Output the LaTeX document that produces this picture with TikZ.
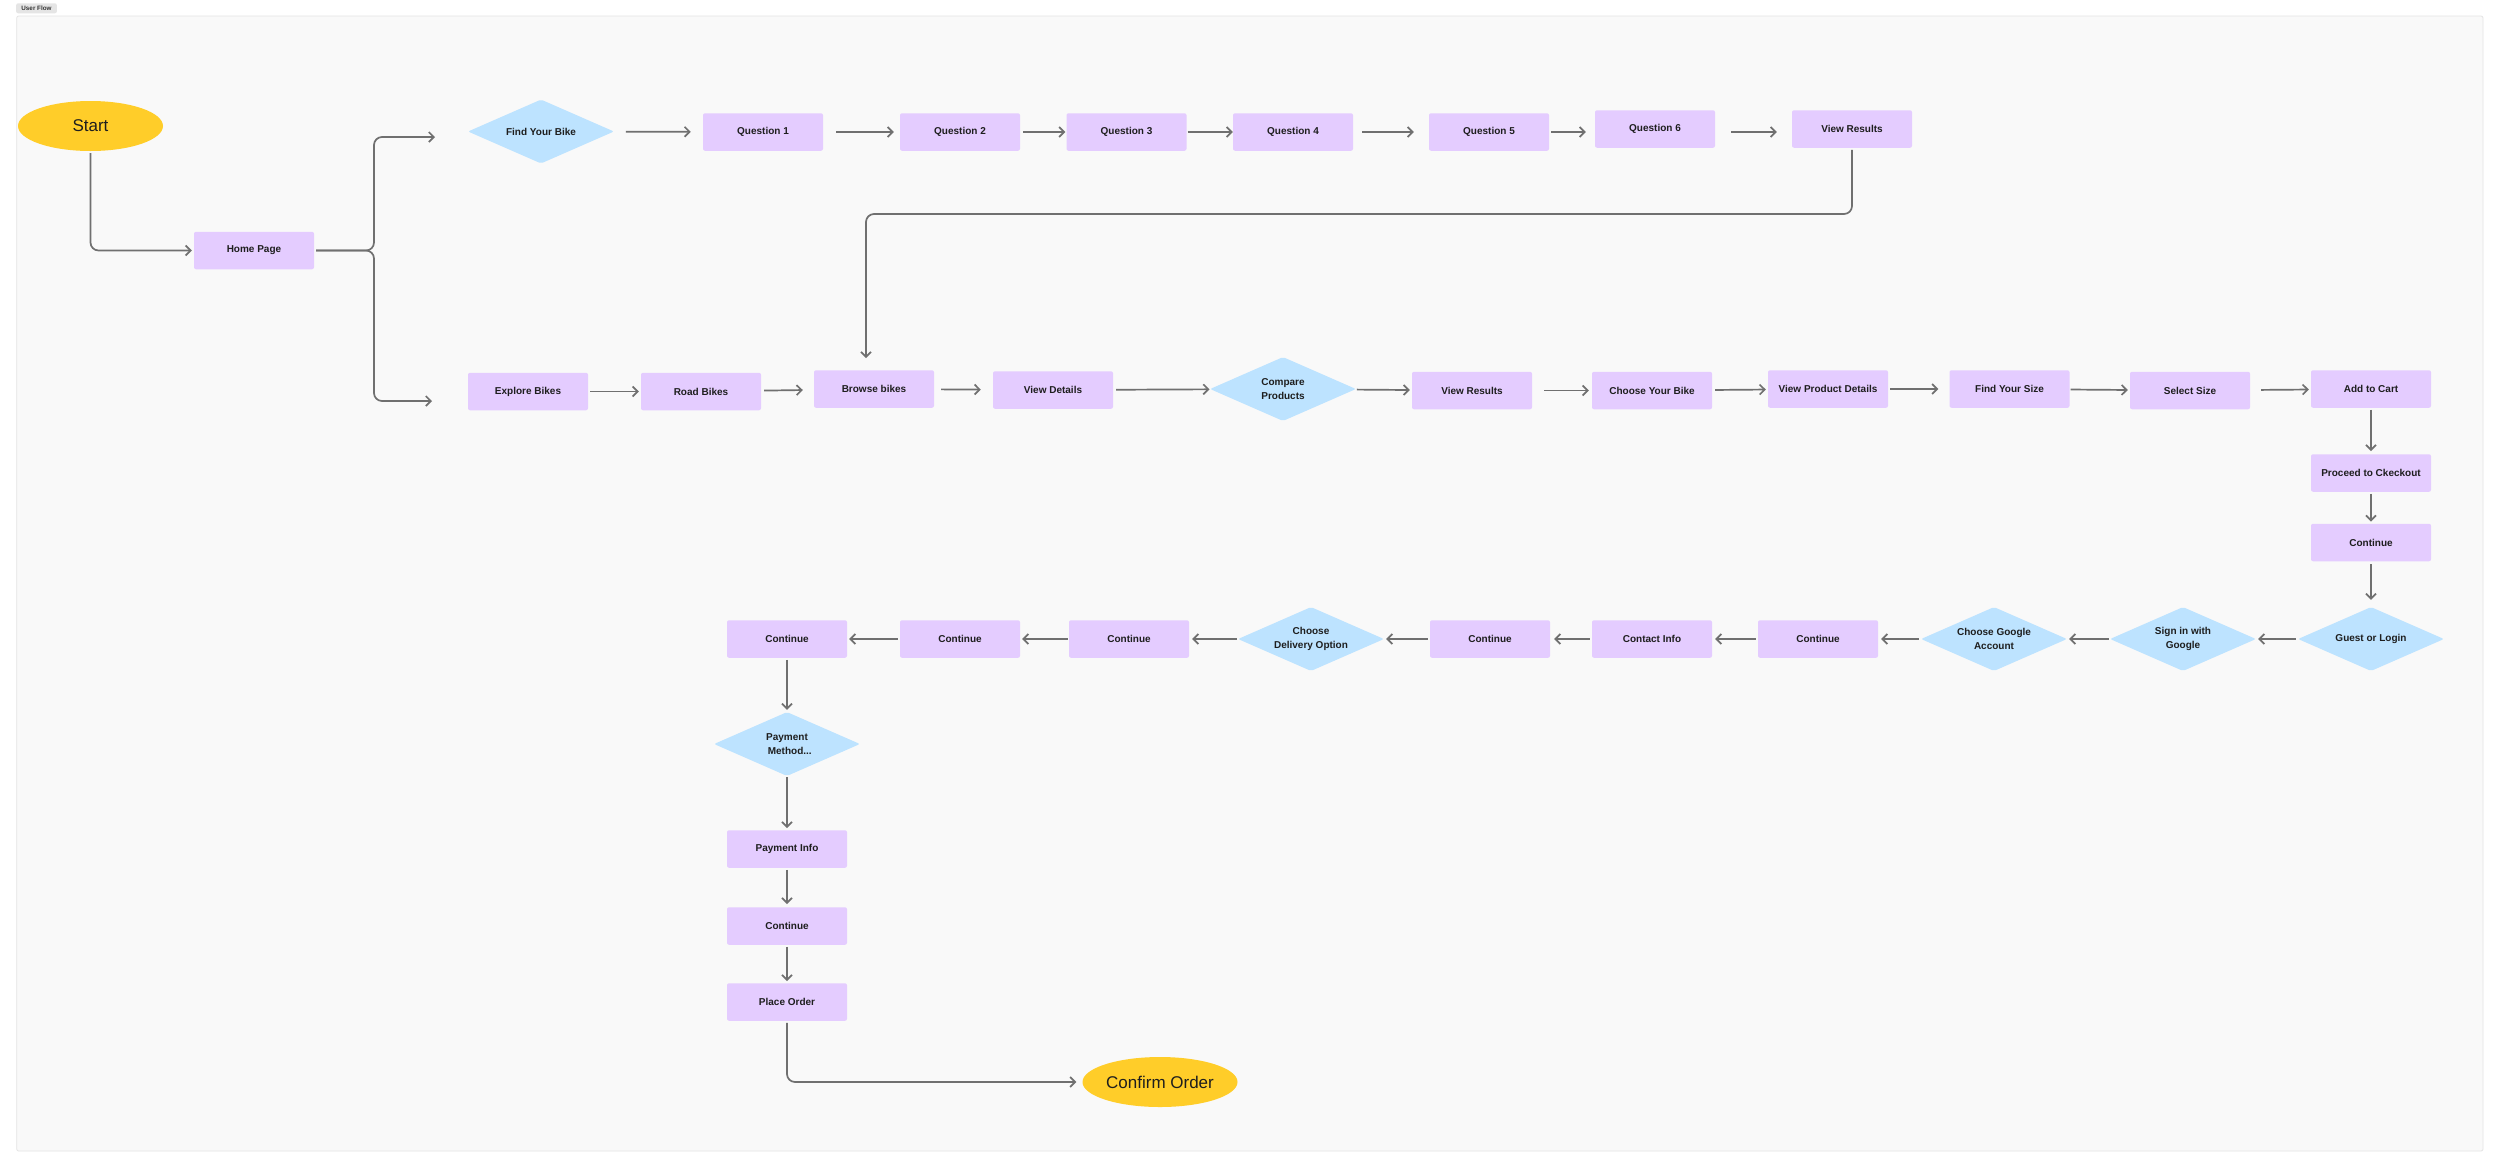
\documentclass[tikz,border=0pt]{standalone}
\usepackage{fontspec}
\setmainfont{Liberation Sans}
\usetikzlibrary{arrows.meta,shapes.geometric,calc}
\definecolor{boxpurple}{HTML}{E4CCFF}
\definecolor{diamblue}{HTML}{BDE3FF}
\definecolor{termyellow}{HTML}{FFCD29}
\definecolor{framefill}{HTML}{F9F9F9}
\definecolor{frameline}{HTML}{E4E4E4}
\definecolor{linegray}{HTML}{707070}
\definecolor{txt}{HTML}{1E1E1E}
\definecolor{tagfill}{HTML}{E5E5E5}
\begin{document}
\begin{tikzpicture}[x=1pt,y=-1pt,
  pbox/.style={rectangle, rounded corners=2pt, fill=boxpurple, minimum width=120pt, minimum height=37.5pt, inner sep=0pt, text=txt, font=\bfseries\fontsize{10}{14}\selectfont},
  dbox/.style={diamond, aspect=2.28, rounded corners=2pt, fill=diamblue, minimum width=146pt, minimum height=64pt, inner sep=0pt, text=txt, align=center, font=\bfseries\fontsize{10}{14}\selectfont},
  term/.style={ellipse, fill=termyellow, inner sep=0pt, text=txt, font=\fontsize{17}{20}\selectfont},
  tagbox/.style={rectangle, rounded corners=2pt, fill=tagfill, minimum width=40.7pt, minimum height=10pt, inner sep=0pt, text=black!80, font=\bfseries\fontsize{6.3}{7}\selectfont},
  arr/.style={draw=linegray, line width=1.7pt, -{Straight Barb[length=5pt,width=10pt]}, rounded corners=8pt},
  ln/.style={draw=linegray, line width=1.7pt, rounded corners=8pt},
]
\fill[white] (0,0) rectangle (2500,1168);
\useasboundingbox (0,0) rectangle (2500,1168);
\draw[frameline, fill=framefill, line width=0.8pt, rounded corners=2pt] (16.7,16) rectangle (2483,1151);
\node[tagbox] (tag) at (36.5,8.3) {User Flow};

% terminals
\node[term, minimum width=145pt, minimum height=50pt] (start) at (90.5,126) {Start};
\node[term, minimum width=155pt, minimum height=50pt] (confirm) at (1160,1082) {Confirm Order};

% top row
\node[pbox] (home) at (254,250.5) {Home Page};
\node[dbox] (fyb) at (541,131.5) {Find Your Bike};
\node[pbox] (q1) at (763,132) {Question 1};
\node[pbox] (q2) at (960,132) {Question 2};
\node[pbox] (q3) at (1126.5,132) {Question 3};
\node[pbox] (q4) at (1293,132) {Question 4};
\node[pbox] (q5) at (1489,132) {Question 5};
\node[pbox] (q6) at (1655,129) {Question 6};
\node[pbox] (vr1) at (1852,129) {View Results};

% second row
\node[pbox] (explore) at (528,391.5) {Explore Bikes};
\node[pbox] (road) at (701,391.5) {Road Bikes};
\node[pbox] (browse) at (874,389) {Browse bikes};
\node[pbox] (details) at (1053,390) {View Details};
\node[dbox] (compare) at (1283,389) {Compare\\Products};
\node[pbox] (vr2) at (1472,390.5) {View Results};
\node[pbox] (cyb) at (1652,390.5) {Choose Your Bike};
\node[pbox] (vpd) at (1828,389) {View Product Details};
\node[pbox] (fys) at (2009.5,389) {Find Your Size};
\node[pbox] (ssize) at (2190,390.5) {Select Size};
\node[pbox] (cart) at (2371,389) {Add to Cart};
\node[pbox] (checkout) at (2371,473) {Proceed to Ckeckout};
\node[pbox] (cont1) at (2371,542.5) {Continue};
\node[dbox] (guest) at (2371,639) {Guest or Login};

% third row
\node[dbox] (signin) at (2183,639) {Sign in with\\Google};
\node[dbox] (cga) at (1994,639) {Choose Google\\Account};
\node[pbox] (cont2) at (1818,639) {Continue};
\node[pbox] (contact) at (1652,639) {Contact Info};
\node[pbox] (cont3) at (1490,639) {Continue};
\node[dbox] (delivery) at (1311,639) {Choose\\Delivery Option};
\node[pbox] (cont4) at (1129,639) {Continue};
\node[pbox] (cont5) at (960,639) {Continue};
\node[pbox] (cont6) at (787,639) {Continue};
\node[dbox] (payment) at (787,744) {Payment\\\ \ Method...};
\node[pbox] (payinfo) at (787,849) {Payment Info};
\node[pbox] (cont7) at (787,926) {Continue};
\node[pbox] (place) at (787,1002) {Place Order};

% free ends / bends
\coordinate (split) at (374,250.5);
\coordinate (fybin) at (435,137);
\coordinate (exin) at (432,401);
\coordinate (loopc) at (866,214);

% connectors
\draw[arr, shorten <=2pt, shorten >=2pt] (start.south) |- (home.west);
\draw[arr, shorten <=2pt] (home.east) -- (split) |- (fybin);
\draw[arr, shorten <=2pt] (home.east) -- (split) |- (exin);

\draw[arr, shorten <=12pt, shorten >=12pt] (fyb) -- (q1);
\draw[arr, shorten <=13pt, shorten >=6pt] (q1) -- (q2);
\draw[arr, shorten <=3pt, shorten >=1pt] (q2) -- (q3);
\draw[arr, shorten <=1pt, shorten >=0pt] (q3) -- (q4);
\draw[arr, shorten <=9pt, shorten >=15pt] (q4) -- (q5);
\draw[arr, shorten <=2pt, shorten >=9pt] (q5.east) -- (q5.east -| q6.west);
\draw[arr, shorten <=16pt, shorten >=15pt] ([yshift=-3pt]q6.east) -- ([yshift=-3pt]vr1.west);
\draw[arr, shorten <=2pt, shorten >=12pt] (vr1.south) |- (loopc) -- (loopc |- browse.north);

\draw[arr, shorten <=2pt, shorten >=2pt] (explore) -- (road);
\draw[arr, shorten <=3pt, shorten >=11pt] (road) -- (browse);
\draw[arr, shorten <=7pt, shorten >=12pt] (browse) -- (details);
\draw[arr, shorten <=3pt, shorten >=1pt] (details) -- (compare);
\draw[arr, shorten <=2pt, shorten >=2pt] (compare) -- (vr2);
\draw[arr, shorten <=12pt, shorten >=3pt] (vr2) -- (cyb);
\draw[arr, shorten <=3pt, shorten >=2pt] (cyb) -- (vpd);
\draw[arr, shorten <=2pt, shorten >=11pt] (vpd) -- (fys);
\draw[arr, shorten <=1pt, shorten >=2pt] (fys) -- (ssize);
\draw[arr, shorten <=11pt, shorten >=2pt] (ssize) -- (cart);
\draw[arr, shorten <=2pt, shorten >=3pt] (cart) -- (checkout);
\draw[arr, shorten <=2pt, shorten >=2pt] (checkout) -- (cont1);
\draw[arr, shorten <=3pt, shorten >=7pt] (cont1) -- (guest);

\draw[arr, shorten <=2pt, shorten >=2pt] (guest) -- (signin);
\draw[arr, shorten <=1pt, shorten >=2pt] (signin) -- (cga);
\draw[arr, shorten <=2pt, shorten >=3pt] (cga) -- (cont2);
\draw[arr, shorten <=2pt, shorten >=3pt] (cont2) -- (contact);
\draw[arr, shorten <=2pt, shorten >=4pt] (contact) -- (cont3);
\draw[arr, shorten <=2pt, shorten >=2pt] (cont3) -- (delivery);
\draw[arr, shorten <=1pt, shorten >=3pt] (delivery) -- (cont4);
\draw[arr, shorten <=1pt, shorten >=2pt] (cont4) -- (cont5);
\draw[arr, shorten <=2pt, shorten >=2pt] (cont5) -- (cont6);

\draw[arr, shorten <=2pt, shorten >=2pt] (cont6) -- (payment);
\draw[arr, shorten <=1pt, shorten >=2pt] (payment) -- (payinfo);
\draw[arr, shorten <=2pt, shorten >=3pt] (payinfo) -- (cont7);
\draw[arr, shorten <=2pt, shorten >=2pt] (cont7) -- (place);
\draw[arr, shorten <=2pt, shorten >=6pt] (place.south) |- (confirm.west);
\end{tikzpicture}
\end{document}
